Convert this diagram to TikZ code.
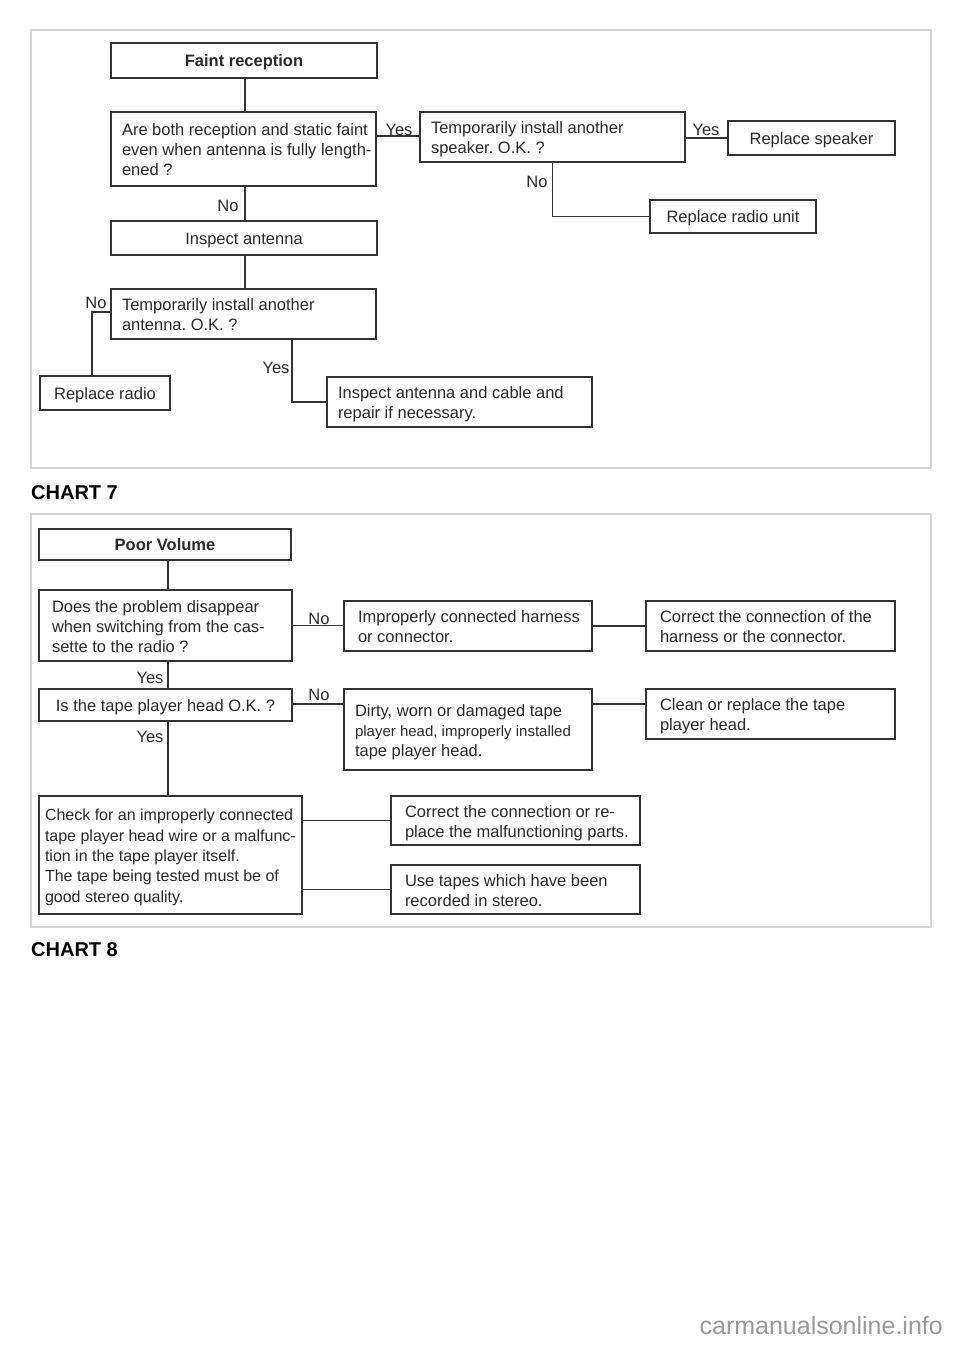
\documentclass[tikz,border=0pt]{standalone}
\usepackage{fontspec}
\setmainfont{Liberation Sans}
\frenchspacing
\definecolor{boxc}{HTML}{333333}
\definecolor{txtc}{HTML}{2A2A2A}
\definecolor{framec}{HTML}{D6D6D6}
\definecolor{wmc}{HTML}{9A9A9A}
\newcommand\myLbox[3]{\makebox[#1pt][l]{\hspace{#2pt}\raisebox{-2.5pt}[\height][\depth]{\begin{tabular}{@{}l@{}}#3\end{tabular}}}}
\tikzset{
  bx/.style={draw=boxc, line width=1.5pt, fill=white, text=txtc, inner xsep=0pt, inner ysep=0pt,
    font=\fontsize{16.5}{20}\selectfont\frenchspacing, align=center},
  one/.style={text height=12pt, text depth=0pt},
  ln/.style={draw=boxc, line width=1.5pt},
  lbl/.style={text=txtc, inner sep=0pt, font=\fontsize{16.5}{20}\selectfont},
  frame/.style={draw=framec, line width=1.2pt},
  title/.style={text=black, inner sep=0pt, anchor=west, font=\fontsize{20}{24}\selectfont\bfseries}
}
\begin{document}
\begin{tikzpicture}[x=1pt,y=-1pt]
\useasboundingbox[fill=white] (0,0) rectangle (960,1358);
% frames
\draw[frame] (31,30) rectangle (931,468);
\draw[frame] (31,514) rectangle (931,927);
\node[title] (c7) at (31,493) {CHART 7};
\node[title] (c8) at (31,950) {CHART 8};

% ---------- chart 7 ----------
\node[bx, one, minimum width=266pt, minimum height=35pt, font=\fontsize{16.5}{20}\selectfont\bfseries] (fr) at (244,60.5) {Faint reception};
\node[bx, minimum width=265pt, minimum height=74pt] (q1) at (243.5,149)
  {\myLbox{265}{11}{Are both reception and static faint\\even when antenna is fully length-\\ened ?}};
\node[bx, minimum width=265pt, minimum height=50pt] (t1) at (552.5,137)
  {\myLbox{265}{11}{Temporarily install another\\speaker. O.K. ?}};
\node[bx, one, minimum width=167pt, minimum height=34pt] (rs) at (811.5,138) {Replace speaker};
\node[bx, one, minimum width=166pt, minimum height=33pt] (rru) at (733,216.5) {Replace radio unit};
\node[bx, one, minimum width=266pt, minimum height=34pt] (ia) at (244,238) {Inspect antenna};
\node[bx, minimum width=265pt, minimum height=50pt] (t2) at (243.5,314)
  {\myLbox{265}{11}{Temporarily install another\\antenna. O.K. ?}};
\node[bx, one, minimum width=130pt, minimum height=34pt] (rr) at (105,393) {Replace radio};
\node[bx, minimum width=265pt, minimum height=50pt] (iac) at (459.5,402)
  {\myLbox{265}{11}{Inspect antenna and cable and\\repair if necessary.}};

\draw[ln] ([xshift=1pt]fr.south) -- ([xshift=1.5pt]q1.north);
\draw[ln] ([yshift=1pt]t1.west -| q1.east) -- ([yshift=1pt]t1.west);
\draw[ln] (rs.west -| t1.east) -- (rs.west);
\draw[ln] (t1.south) -- (t1.south |- rru.west) -- (rru.west);
\draw[ln] ([xshift=1.5pt]q1.south) -- ([xshift=1pt]ia.north);
\draw[ln] ([xshift=1pt]ia.south) -- ([xshift=1.5pt]t2.north);
\draw[ln] ([yshift=2pt]t2.west) -| ([xshift=-13pt]rr.north);
\draw[ln] ([xshift=48.5pt]t2.south) |- (iac.west);

\node[lbl] (ly1) at (399,129.5) {Yes};
\node[lbl] (ly2) at (706,129.5) {Yes};
\node[lbl] (ln1) at (537,181.5) {No};
\node[lbl] (ln2) at (228,205.5) {No};
\node[lbl] (ln3) at (96,302.5) {No};
\node[lbl] (ly3) at (276,367.5) {Yes};

% ---------- chart 8 ----------
\node[bx, one, minimum width=252pt, minimum height=31pt, font=\fontsize{16.5}{20}\selectfont\bfseries] (pv) at (165,544.5) {Poor Volume};
\node[bx, minimum width=253pt, minimum height=71pt] (c1) at (165.5,625.5)
  {\myLbox{253}{13}{Does the problem disappear\\when switching from the cas-\\sette to the radio ?}};
\node[bx, minimum width=248pt, minimum height=50pt] (ic) at (468,626)
  {\myLbox{248}{14}{Improperly connected harness\\or connector.}};
\node[bx, minimum width=249pt, minimum height=50pt] (cc) at (770.5,626)
  {\myLbox{249}{14}{Correct the connection of the\\harness or the connector.}};
\node[bx, one, minimum width=253pt, minimum height=32pt] (tp) at (165.5,705) {Is the tape player head O.K. ?};
\node[bx, minimum width=248pt, minimum height=81pt] (dw) at (468,729.5)
  {\myLbox{248}{11}{Dirty, worn or damaged tape\\{\fontsize{15}{20}\selectfont player head, improperly installed}\\tape player head.}};
\node[bx, minimum width=249pt, minimum height=50pt] (cr) at (770.5,714)
  {\myLbox{249}{14}{Clean or replace the tape\\player head.}};
\node[bx, minimum width=263pt, minimum height=118pt, font=\fontsize{16}{20.3}\selectfont\frenchspacing] (ck) at (170.5,855)
  {\myLbox{263}{6}{Check for an improperly connected\\tape player head wire or a malfunc-\\tion in the tape player itself.\\The tape being tested must be of\\good stereo quality.}};
\node[bx, minimum width=249pt, minimum height=49pt] (cp) at (515.5,820.5)
  {\myLbox{249}{14}{Correct the connection or re-\\place the malfunctioning parts.}};
\node[bx, minimum width=249pt, minimum height=49pt] (ut) at (515.5,889.5)
  {\myLbox{249}{14}{Use tapes which have been\\recorded in stereo.}};

\draw[ln] ([xshift=3pt]pv.south) -- ([xshift=2.5pt]c1.north);
\draw[ln] (c1.east) -- (c1.east -| ic.west);
\draw[ln] (ic.east) -- (cc.west);
\draw[ln] ([xshift=2.5pt]c1.south) -- ([xshift=2.5pt]tp.north);
\draw[ln] ([yshift=1pt]tp.east) -- ([yshift=1pt]tp.east -| dw.west);
\draw[ln] ([yshift=1pt]tp.east -| dw.east) -- ([yshift=1pt]tp.east -| cr.west);
\draw[ln] ([xshift=2.5pt]tp.south) -- ([xshift=-2.5pt]ck.north);
\draw[ln] (cp.west -| ck.east) -- (cp.west);
\draw[ln] (ut.west -| ck.east) -- (ut.west);

\node[lbl] (ln4) at (319,618.5) {No};
\node[lbl] (ly4) at (150,677.5) {Yes};
\node[lbl] (ln5) at (319,694.5) {No};
\node[lbl] (ly5) at (150,736.5) {Yes};

% watermark
\node[text=wmc, inner sep=0pt, anchor=east, font=\fontsize{25}{28}\selectfont] (wm) at (943,1326) {carmanualsonline.info};
\end{tikzpicture}
\end{document}
